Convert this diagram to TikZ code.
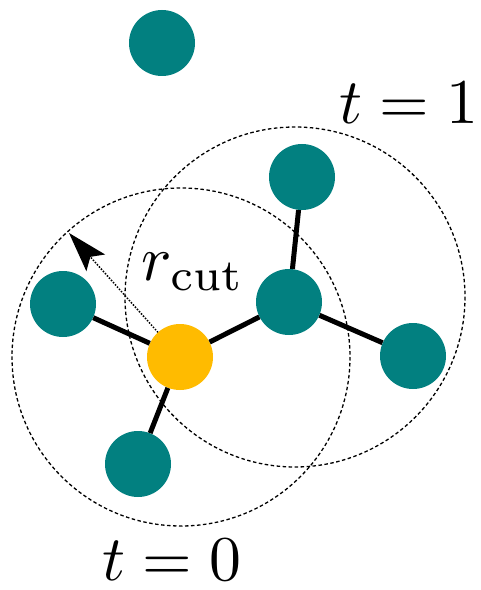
\documentclass[tikz,border=0pt]{standalone}
\usepackage{graphicx}
\usetikzlibrary{arrows.meta}
\definecolor{atomteal}{RGB}{2,128,128}
\definecolor{atomgold}{RGB}{255,187,0}
\tikzset{
  atom/.style={circle,fill=atomteal,minimum size=66bp,inner sep=0pt},
  center atom/.style={circle,fill=atomgold,minimum size=66bp,inner sep=0pt},
  bond/.style={line width=5bp,black},
  cutoff/.style={line width=1.3bp,dash pattern=on 3.5bp off 2.5bp},
  lbl/.style={inner sep=0pt}
}
\newcommand{\biglbl}[1]{\scalebox{6.4}{#1}}
\begin{document}
\begin{tikzpicture}[x=1bp,y=-1bp]
\useasboundingbox (0,0) rectangle (481,590);
% cutoff spheres
\draw[cutoff] (181,357) circle (169);
\draw[cutoff] (295,297) circle (170);
\coordinate (cc) at (180,357);
\coordinate (tip) at (69,233);
% radius arrow
\draw[line width=1.5bp,dash pattern=on 1.5bp off 1.5bp,-{Stealth[length=40bp,width=25bp,inset=8bp]}] (cc) -- (tip);
% atoms
\node[atom] (top) at (162,43) {};
\node[atom] (tr) at (302,177) {};
\node[atom] (mid) at (289,302) {};
\node[atom] (left) at (63,304) {};
\node[atom] (right) at (413,356) {};
\node[atom] (bot) at (138,464) {};
\node[center atom] (c) at (cc) {};
% bonds
\draw[bond] (c) -- (left);
\draw[bond] (c) -- (mid);
\draw[bond] (c) -- (bot);
\draw[bond] (mid) -- (tr);
\draw[bond] (mid) -- (right);
% labels
\node[lbl] (r) at (193,272) {\biglbl{$r_{\mathrm{cut}}$}};
\node[lbl] (t1) at (409,103) {\biglbl{$t=1$}};
\node[lbl] (t0) at (172,560) {\biglbl{$t=0$}};
\end{tikzpicture}
\end{document}
